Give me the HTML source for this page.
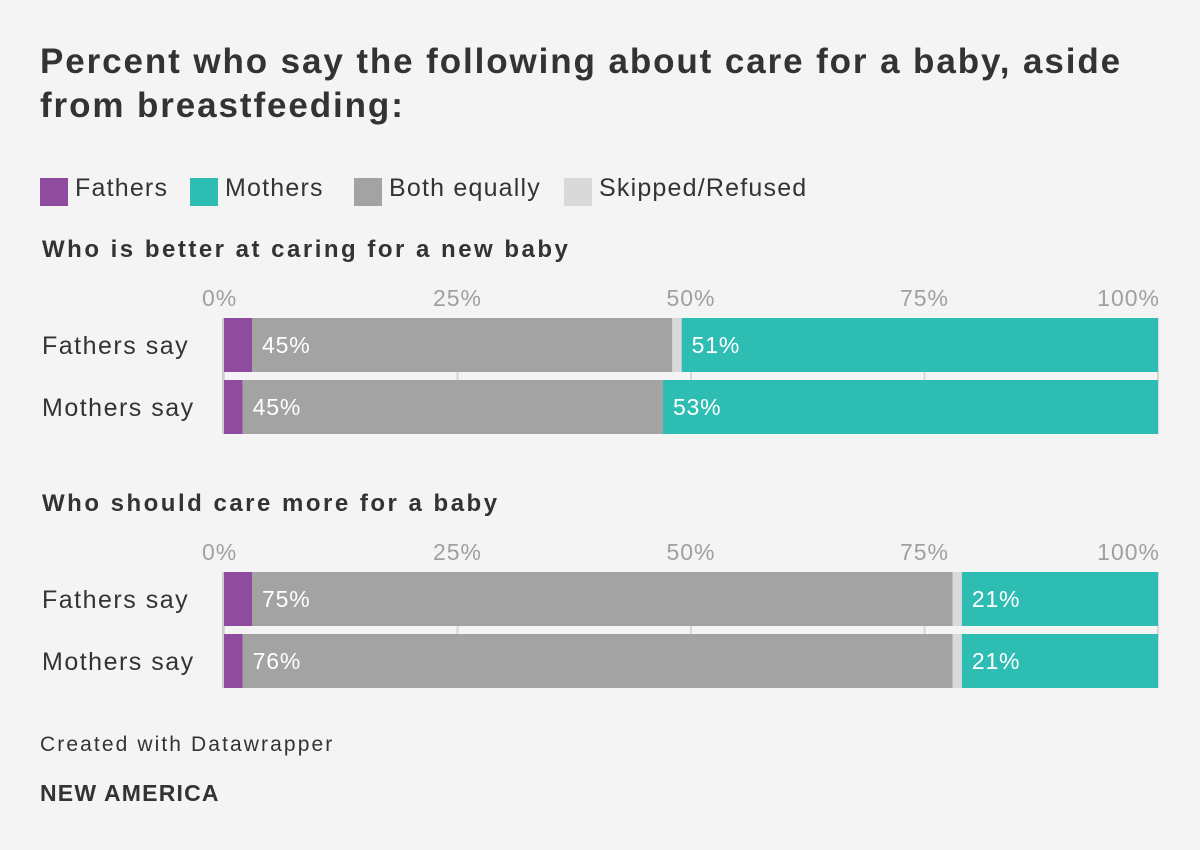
<!DOCTYPE html>
<html><head><meta charset="utf-8">
<style>
body{margin:0;width:1200px;height:850px;background:#f4f4f4;font-family:"Liberation Sans",sans-serif;overflow:hidden;position:relative}
.t{position:absolute;white-space:nowrap}
</style></head>
<body>
<div class="t" style="left:40px;top:40px;font-size:35px;font-weight:bold;color:#333;line-height:44px;letter-spacing:1.9px">Percent who say the following about care for a baby, aside<br>from breastfeeding:</div>
<div style="position:absolute;left:40px;top:174px;font-size:25px;color:#333;letter-spacing:1.2px">
<span style="position:absolute;left:0;top:4px;width:28px;height:28px;background:#8f4b9e"></span><span class="t" style="left:35px;top:0">Fathers</span>
<span style="position:absolute;left:150px;top:4px;width:28px;height:28px;background:#2ebdb3"></span><span class="t" style="left:185px;top:0">Mothers</span>
<span style="position:absolute;left:314px;top:4px;width:28px;height:28px;background:#a3a3a3"></span><span class="t" style="left:349px;top:0">Both equally</span>
<span style="position:absolute;left:524px;top:4px;width:28px;height:28px;background:#d9d9d9"></span><span class="t" style="left:559px;top:0">Skipped/Refused</span>
</div>
<svg id="chart" width="1200" height="850" style="position:absolute;left:0;top:0"></svg>
<div class="t" style="left:40px;top:733px;font-size:21px;color:#333;letter-spacing:2.1px">Created with Datawrapper</div>
<div class="t" style="left:40px;top:780px;font-size:23px;font-weight:bold;color:#333;letter-spacing:1.2px">NEW AMERICA</div>
<script>
const sections = ["Who is better at caring for a new baby","Who should care more for a baby"];
const rows = ["Fathers say","Mothers say"];
const fathersVals = [[3,2],[3,2]];
const bothVals = [[45,45],[75,76]];
const skippedVals = [[1,0],[1,1]];
const mothersVals = [[51,53],[21,21]];
const ticks = [0,25,50,75,100];
const NS="http://www.w3.org/2000/svg";
const svg=document.getElementById('chart');
const x0=224,x1=1158;
const xs=v=>x0+(x1-x0)*v/100;
function mk(tag,attrs,txt){const e=document.createElementNS(NS,tag);for(const k in attrs)e.setAttribute(k,attrs[k]);if(txt!==undefined)e.textContent=txt;svg.appendChild(e);return e;}
const secTop=[235,489];
sections.forEach((s,si)=>{
  const top=secTop[si];
  const h=mk('text',{x:42,y:top+22,'font-size':24,'font-weight':'bold',fill:'#333','letter-spacing':2.5,'font-family':'Liberation Sans, sans-serif'},s);
  
  
  ticks.forEach(t=>{
    const anchor=t===0?'start':(t===100?'end':'middle');
    const tx=mk('text',{x:t===0?xs(t)-22:(t===100?xs(t)+2:xs(t)),y:top+71,'font-size':23,fill:'#a0a0a0','letter-spacing':1,'text-anchor':anchor,'font-family':'Liberation Sans, sans-serif'},t+'%');
    
    
    const g=mk('line',{x1:xs(t),x2:xs(t),y1:top+83,y2:top+199,stroke:'#d8d8d8','stroke-width':2});
    
    
  });
  rows.forEach((r,ri)=>{
    const y=top+83+ri*62, bh=54;
    const lb=mk('text',{x:42,y:y+36,'font-size':25,fill:'#333','letter-spacing':1.5,'font-family':'Liberation Sans, sans-serif'},r);
    
    
    let acc=0;
    const segs=[[fathersVals[si][ri],'#8f4b9e','bar-fathers'],[bothVals[si][ri],'#a3a3a3','bar-both'],[skippedVals[si][ri],'#d9d9d9','bar-skipped'],[mothersVals[si][ri],'#2ebdb3','bar-mothers']];
    segs.forEach(([v,c,n],k)=>{
      const rc=mk('rect',{x:xs(acc),y:y,width:Math.max(0,xs(acc+v)-xs(acc)),height:bh,fill:c});
      
      
      if(k===1||k===3){
        const vt=mk('text',{x:xs(acc)+10,y:y+35,'font-size':23,fill:'#fff','letter-spacing':0.8,'font-family':'Liberation Sans, sans-serif'},v+'%');
        
        
      }
      acc+=v;
    });
  });
  const ax=mk('line',{x1:x0-1,x2:x0-1,y1:top+83,y2:top+199,stroke:'#ccc','stroke-width':2});
  
  
});
</script>
</body></html>
